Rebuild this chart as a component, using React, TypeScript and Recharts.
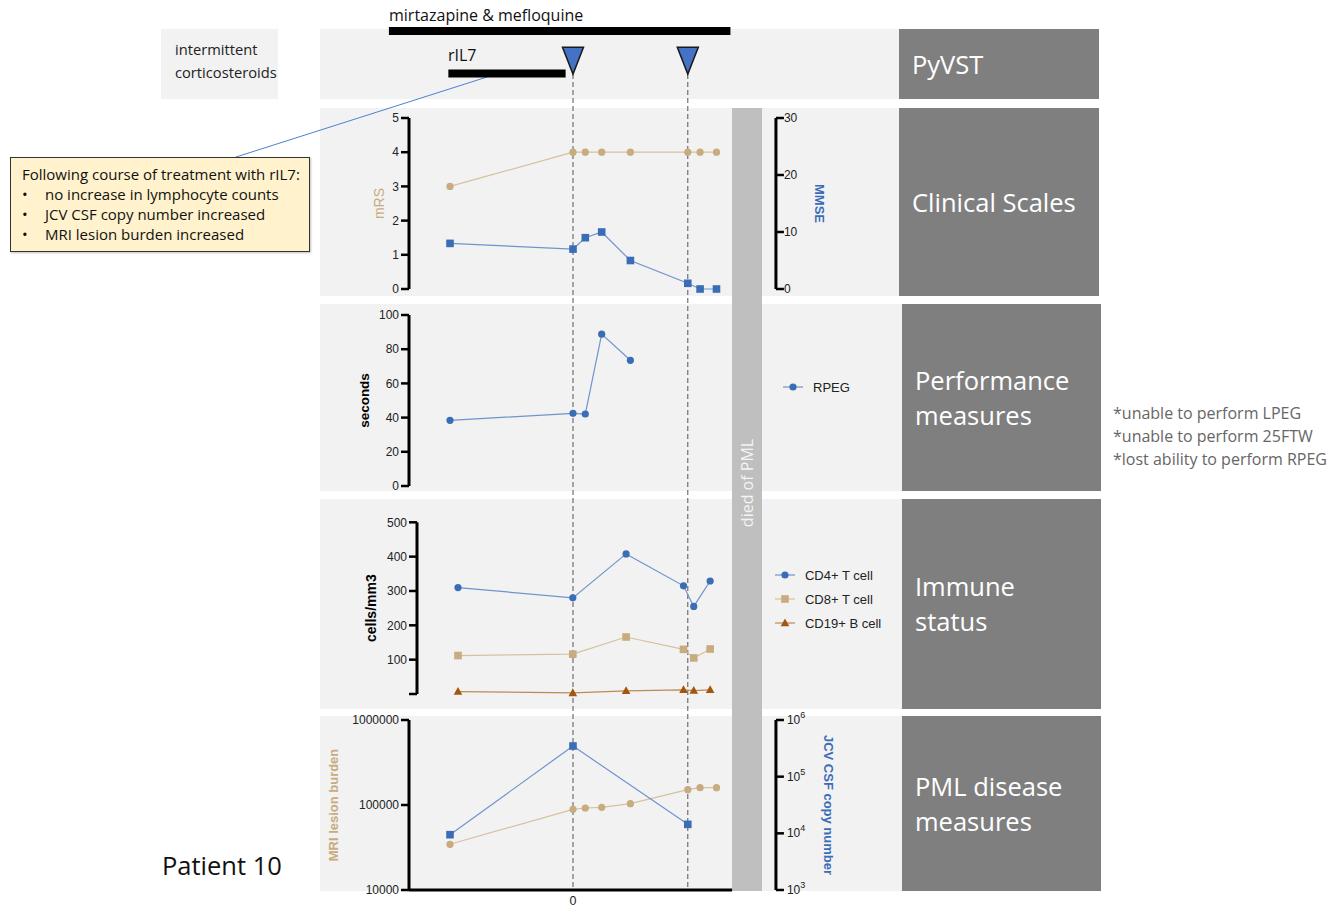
import React from "react";
import {
  Legend,
  Line,
  LineChart,
  ReferenceDot,
  ReferenceLine,
  XAxis,
  YAxis,
} from "recharts";

const AXIS_FONT = "'Liberation Sans', Arial, sans-serif";
const SLIDE_FONT = "'Open Sans', Lato, sans-serif";

const TAN = "#c8ab7e";
const TAN_LINE = "#d6c19f";
const BLUE = "#3a6db6";
const BLUE_LINE = "#6f94cd";
const BROWN = "#a3560d";
const BROWN_LINE = "#bb8a55";

// days relative to the first PyVST infusion
const pyvstDays = [0, 28];
const mirtazapineSpan = [-44.9, 38.4];
const ril7Span = [-30.4, -1.8];

// clinical scales
const clinicalDays = [-30, 0, 3, 7, 14, 28, 31, 35];
const mrsValues = [3, 4, 4, 4, 4, 4, 4, 4];
const mmseValues = [8, 7, 9, 10, 5, 1, 0, 0];

// performance measures
const rpegDays = [-30, 0, 3, 7, 14];
const rpegSeconds = [38.4, 42.5, 42.1, 88.8, 73.5];

// immune status
const immuneDays = [-28, 0, 13, 27, 29.5, 33.5];
const cd4Counts = [310, 280, 408, 315, 255, 329];
const cd8Counts = [112, 116, 166, 130, 105, 131];
const cd19Counts = [7, 3, 9, 12, 10, 12];

// PML disease measures
const mriDays = [-30, 0, 3, 7, 14, 28, 31, 35];
const mriBurden = [34500, 88900, 92200, 94000, 103700, 151400, 159900, 160000];
const jcvDays = [-30, 0, 28];
const jcvCopies = [9460, 347500, 14400];

const clinicalData = clinicalDays.map((day, i) => ({ day, mrs: mrsValues[i], mmse: mmseValues[i] }));
const rpegData = rpegDays.map((day, i) => ({ day, rpeg: rpegSeconds[i] }));
const immuneData = immuneDays.map((day, i) => ({
  day,
  cd4: cd4Counts[i],
  cd8: cd8Counts[i],
  cd19: cd19Counts[i],
}));
const mriData = mriDays.map((day, i) => ({ day, mri: mriBurden[i] }));
const jcvData = jcvDays.map((day, i) => ({ day, jcv: jcvCopies[i] }));

// shared time scale so the panels line up under the infusion markers
const PX_PER_DAY = 4.1;
const DAY0_X = 572.5;
const frame = (a: number, b: number, leftW: number, rightW: number) => ({
  left: DAY0_X + a * PX_PER_DAY - leftW,
  width: (b - a) * PX_PER_DAY + leftW + rightW,
});

type Shape = "circle" | "square" | "triangle";

function marker(shape: Shape, cx: number, cy: number, fill: string, key?: React.Key) {
  if (cx == null || cy == null) return null;
  if (shape === "square")
    return <rect key={key} x={cx - 3.8} y={cy - 3.8} width={7.6} height={7.6} fill={fill} />;
  if (shape === "triangle")
    return (
      <polygon
        key={key}
        points={`${cx},${cy - 4.6} ${cx + 4.3},${cy + 3.2} ${cx - 4.3},${cy + 3.2}`}
        fill={fill}
      />
    );
  return <circle key={key} cx={cx} cy={cy} r={3.6} fill={fill} />;
}

const dotOf = (shape: Shape, fill: string) => (p: any) => marker(shape, p.cx, p.cy, fill, p.index);

const LEGEND_MARKERS: Record<string, [Shape, string, number]> = {
  rpeg: ["circle", BLUE, 0],
  cd4: ["circle", BLUE, 0],
  cd8: ["square", TAN, 1],
  cd19: ["triangle", BROWN, 2],
};

function MarkerLegend(props: any) {
  const items = [...(props.payload || [])].sort(
    (a: any, b: any) => (LEGEND_MARKERS[a.dataKey]?.[2] ?? 0) - (LEGEND_MARKERS[b.dataKey]?.[2] ?? 0)
  );
  return (
    <div style={{ fontFamily: AXIS_FONT, fontSize: 13, color: "#222" }}>
      {items.map((item: any) => {
        const [shape, fill] = LEGEND_MARKERS[item.dataKey] || ["circle", item.color];
        return (
          <div key={item.value} style={{ display: "flex", alignItems: "center", height: 24 }}>
            <svg width={22} height={12}>
              <line x1={0} y1={6} x2={20} y2={6} stroke={item.color} strokeWidth={1.2} />
              {marker(shape, 10, 6, fill)}
            </svg>
            <span style={{ marginLeft: 8 }}>{item.value}</span>
          </div>
        );
      })}
    </div>
  );
}

const axisProps = {
  type: "number" as const,
  axisLine: { stroke: "#000", strokeWidth: 3 },
  tickLine: { stroke: "#000", strokeWidth: 2.5 },
  tickSize: 8,
  tickMargin: 2,
  interval: 0 as const,
  tick: { fontSize: 12, fill: "#222", fontFamily: AXIS_FONT },
};

const SUP: Record<number, string> = { 3: "3", 4: "4", 5: "5", 6: "6" };

function PowerTick(props: any) {
  const { x, y, payload } = props;
  const exp = Math.round(Math.log10(payload.value));
  return (
    <text x={x + 1} y={y} dy={4} fontSize={12} fill="#222" fontFamily={AXIS_FONT} textAnchor="start">
      <tspan>10</tspan>
      <tspan dy={-6} fontSize={9}>
        {SUP[exp]}
      </tspan>
    </text>
  );
}

const rows = [
  { top: 29, bottom: 99, right: 899, darkRight: 1099, title: ["PyVST"] },
  { top: 108, bottom: 296, right: 899, darkRight: 1099, title: ["Clinical Scales"] },
  { top: 304, bottom: 491, right: 902, darkRight: 1101, title: ["Performance", "measures"] },
  { top: 499, bottom: 709, right: 902, darkRight: 1101, title: ["Immune", "status"] },
  { top: 716, bottom: 891, right: 902, darkRight: 1101, title: ["PML disease", "measures"] },
];

const abs = (left: number, top: number, extra: React.CSSProperties = {}): React.CSSProperties => ({
  position: "absolute",
  left,
  top,
  ...extra,
});

export default function App() {
  const clin = frame(-40, 49.5, 68, 65);
  const perf = frame(-40, 49.5, 68, 65);
  const imm = frame(-38, 49.5, 68, 65);
  const pml = frame(-40, 49.5, 95, 65);
  const over = frame(-50, 50, 0, 0);

  return (
    <div
      style={{
        position: "absolute",
        left: 0,
        top: 0,
        width: 1332,
        height: 909,
        background: "#fff",
        overflow: "hidden",
        fontFamily: SLIDE_FONT,
      }}
    >
      {/* row backgrounds and titles */}
      <div style={abs(161, 29, { width: 117, height: 70, background: "#f2f2f2" })} />
      <div style={abs(175, 38, { fontSize: 14.7, lineHeight: "23px", color: "#222" })}>
        intermittent
        <br />
        corticosteroids
      </div>
      {rows.map((r) => (
        <React.Fragment key={r.top}>
          <div style={abs(320, r.top, { width: r.right - 320, height: r.bottom - r.top, background: "#f2f2f2" })} />
          <div
            style={abs(r.right, r.top, {
              width: r.darkRight - r.right,
              height: r.bottom - r.top,
              background: "#7f7f7f",
              color: "#fff",
              fontSize: 25.5,
              lineHeight: "35px",
              display: "flex",
              flexDirection: "column",
              justifyContent: "center",
              paddingLeft: 13,
              boxSizing: "border-box",
            })}
          >
            {r.title.map((t) => (
              <div key={t}>{t}</div>
            ))}
          </div>
        </React.Fragment>
      ))}

      {/* died of PML band */}
      <div style={abs(732, 108, { width: 30, height: 783, background: "#bfbfbf" })} />
      <div
        style={abs(747, 483, {
          transform: "translate(-50%, -50%) rotate(-90deg)",
          color: "#f4f4f4",
          fontSize: 16,
          whiteSpace: "nowrap",
        })}
      >
        died of PML
      </div>

      {/* treatment labels */}
      <div style={abs(389, 4, { fontSize: 16, color: "#111", whiteSpace: "nowrap" })}>mirtazapine &amp; mefloquine</div>
      <div style={abs(448, 44, { fontSize: 16, color: "#111" })}>rIL7</div>

      {/* call-out */}
      <svg style={abs(0, 0)} width={1332} height={909} pointerEvents="none">
        <line x1={236} y1={157} x2={487} y2={77} stroke="#4f7fcf" strokeWidth={1} />
      </svg>
      <div
        style={abs(10, 157, {
          width: 300,
          height: 95,
          background: "#fff2cc",
          border: "1.5px solid #333",
          boxSizing: "border-box",
          boxShadow: "1px 1px 2px rgba(0,0,0,0.25)",
          fontSize: 15,
          lineHeight: "20px",
          color: "#111",
          padding: "6px 0 0 11px",
          whiteSpace: "nowrap",
        })}
      >
        <div>Following course of treatment with rIL7:</div>
        {["no increase in lymphocyte counts", "JCV CSF copy number increased", "MRI lesion burden increased"].map((t) => (
          <div key={t} style={{ display: "flex" }}>
            <span style={{ width: 23 }}>•</span>
            <span>{t}</span>
          </div>
        ))}
      </div>

      <div style={abs(162, 848, { fontSize: 25.5, color: "#111" })}>Patient 10</div>

      <div style={abs(1113, 402, { fontSize: 16, lineHeight: "23px", color: "#666", whiteSpace: "nowrap" })}>
        *unable to perform LPEG
        <br />
        *unable to perform 25FTW
        <br />
        *lost ability to perform RPEG
      </div>

      {/* timeline overlay: infusions, treatment bars, dashed guides */}
      <div style={abs(over.left, 0)}>
        <LineChart width={over.width} height={891} data={[{ day: -50 }, { day: 50 }]} margin={{ top: 0, right: 0, bottom: 0, left: 0 }}>
          <XAxis hide type="number" dataKey="day" domain={[-50, 50]} allowDataOverflow />
          <YAxis hide type="number" domain={[0, 891]} reversed allowDataOverflow />
          {pyvstDays.map((d) => (
            <ReferenceLine
              key={`g${d}`}
              segment={[
                { x: d, y: 74 },
                { x: d, y: 890 },
              ]}
              stroke="#555"
              strokeWidth={1}
              strokeDasharray="5 3"
            />
          ))}
          <ReferenceLine
            segment={[
              { x: mirtazapineSpan[0], y: 31 },
              { x: mirtazapineSpan[1], y: 31 },
            ]}
            stroke="#000"
            strokeWidth={8}
          />
          <ReferenceLine
            segment={[
              { x: ril7Span[0], y: 73.5 },
              { x: ril7Span[1], y: 73.5 },
            ]}
            stroke="#000"
            strokeWidth={8}
          />
          {pyvstDays.map((d) => (
            <ReferenceDot
              key={`t${d}`}
              x={d}
              y={60.7}
              r={10}
              shape={(p: any) => (
                <polygon
                  points={`${p.cx - 10.5},${p.cy - 13.4} ${p.cx + 10.5},${p.cy - 13.4} ${p.cx},${p.cy + 13.4}`}
                  fill="#4472c4"
                  stroke="#1a1a1a"
                  strokeWidth={1.5}
                />
              )}
            />
          ))}
        </LineChart>
      </div>

      {/* clinical scales */}
      <div style={abs(clin.left, 108)}>
        <LineChart width={clin.width} height={195} data={clinicalData} margin={{ top: 10, right: 0, bottom: 14, left: 0 }}>
          <XAxis hide type="number" dataKey="day" domain={[-40, 49.5]} />
          <YAxis
            {...axisProps}
            yAxisId="mrs"
            width={68}
            domain={[0, 5]}
            ticks={[0, 1, 2, 3, 4, 5]}
            label={{ value: "mRS", angle: -90, position: "insideLeft", offset: 38.5, fill: TAN, fontSize: 14, fontFamily: AXIS_FONT, style: { textAnchor: "middle" } }}
          />
          <YAxis
            {...axisProps}
            yAxisId="mmse"
            orientation="right"
            width={65}
            domain={[0, 30]}
            ticks={[0, 10, 20, 30]}
            tickMargin={0}
            label={{ value: "MMSE", angle: 90, position: "insideRight", offset: 21.5, fill: BLUE, fontSize: 13, fontWeight: 700, fontFamily: AXIS_FONT, style: { textAnchor: "middle" } }}
          />
          <Line yAxisId="mrs" type="linear" dataKey="mrs" stroke={TAN_LINE} strokeWidth={1.2} dot={dotOf("circle", TAN)} isAnimationActive={false} />
          <Line yAxisId="mmse" type="linear" dataKey="mmse" stroke={BLUE_LINE} strokeWidth={1.2} dot={dotOf("square", BLUE)} isAnimationActive={false} />
        </LineChart>
      </div>

      {/* performance measures */}
      <div style={abs(perf.left, 304)}>
        <LineChart width={perf.width} height={194} data={rpegData} margin={{ top: 11, right: 65, bottom: 12, left: 0 }}>
          <XAxis hide type="number" dataKey="day" domain={[-40, 49.5]} />
          <YAxis
            {...axisProps}
            width={68}
            domain={[0, 100]}
            ticks={[0, 20, 40, 60, 80, 100]}
            label={{ value: "seconds", angle: -90, position: "insideLeft", offset: 23.5, fill: "#000", fontSize: 13.5, fontWeight: 700, fontFamily: AXIS_FONT, style: { textAnchor: "middle" } }}
          />
          <Legend
            layout="vertical"
            align="center"
            verticalAlign="middle"
            wrapperStyle={{ left: 442.5, top: 71, width: 120 }}
            content={MarkerLegend}
          />
          <Line type="linear" dataKey="rpeg" name="RPEG" stroke={BLUE_LINE} strokeWidth={1.2} dot={dotOf("circle", BLUE)} isAnimationActive={false} />
        </LineChart>
      </div>

      {/* immune status */}
      <div style={abs(imm.left, 499)}>
        <LineChart width={imm.width} height={210} data={immuneData} margin={{ top: 23.3, right: 65, bottom: 15, left: 0 }}>
          <XAxis hide type="number" dataKey="day" domain={[-38, 49.5]} />
          <YAxis
            {...axisProps}
            width={68}
            domain={[0, 500]}
            ticks={[0, 100, 200, 300, 400, 500]}
            tickFormatter={(v: number) => (v === 0 ? "" : String(v))}
            label={{ value: "cells/mm3", angle: -90, position: "insideLeft", offset: 22.3, fill: "#000", fontSize: 14, fontWeight: 700, fontFamily: AXIS_FONT, style: { textAnchor: "middle" } }}
          />
          <Legend
            layout="vertical"
            align="center"
            verticalAlign="middle"
            wrapperStyle={{ left: 426.3, top: 64, width: 130 }}
            content={MarkerLegend}
          />
          <Line type="linear" dataKey="cd4" name="CD4+ T cell" stroke={BLUE_LINE} strokeWidth={1.2} dot={dotOf("circle", BLUE)} isAnimationActive={false} />
          <Line type="linear" dataKey="cd8" name="CD8+ T cell" stroke={TAN_LINE} strokeWidth={1.2} dot={dotOf("square", TAN)} isAnimationActive={false} />
          <Line type="linear" dataKey="cd19" name="CD19+ B cell" stroke={BROWN_LINE} strokeWidth={1.2} dot={dotOf("triangle", BROWN)} isAnimationActive={false} />
        </LineChart>
      </div>

      {/* PML disease measures */}
      <div style={abs(pml.left, 710)}>
        <LineChart width={pml.width} height={199} margin={{ top: 10, right: 0, bottom: 0, left: 0 }}>
          <XAxis
            type="number"
            dataKey="day"
            domain={[-40, 49.5]}
            ticks={[0]}
            height={19}
            axisLine={false}
            tickLine={false}
            tickSize={0}
            tickMargin={6}
            tick={{ fontSize: 12.5, fill: "#222", fontFamily: AXIS_FONT }}
          />
          <YAxis
            {...axisProps}
            yAxisId="mri"
            width={95}
            scale="log"
            domain={[10000, 1000000]}
            ticks={[10000, 100000, 1000000]}
            label={{ value: "MRI lesion burden", angle: -90, position: "insideLeft", offset: 19.5, fill: TAN, fontSize: 13, fontWeight: 700, fontFamily: AXIS_FONT, style: { textAnchor: "middle" } }}
          />
          <YAxis
            {...axisProps}
            yAxisId="jcv"
            orientation="right"
            width={65}
            scale="log"
            domain={[1000, 1000000]}
            ticks={[1000, 10000, 100000, 1000000]}
            tick={<PowerTick />}
            label={{ value: "JCV CSF copy number", angle: 90, position: "insideRight", offset: 12.5, fill: BLUE, fontSize: 13, fontWeight: 700, fontFamily: AXIS_FONT, style: { textAnchor: "middle" } }}
          />
          <ReferenceLine
            yAxisId="mri"
            segment={[
              { x: -40, y: 10000 },
              { x: 38.8, y: 10000 },
            ]}
            stroke="#000"
            strokeWidth={3}
          />
          <Line yAxisId="mri" data={mriData} type="linear" dataKey="mri" stroke={TAN_LINE} strokeWidth={1.2} dot={dotOf("circle", TAN)} isAnimationActive={false} />
          <Line yAxisId="jcv" data={jcvData} type="linear" dataKey="jcv" stroke={BLUE_LINE} strokeWidth={1.2} dot={dotOf("square", BLUE)} isAnimationActive={false} />
        </LineChart>
      </div>
    </div>
  );
}
